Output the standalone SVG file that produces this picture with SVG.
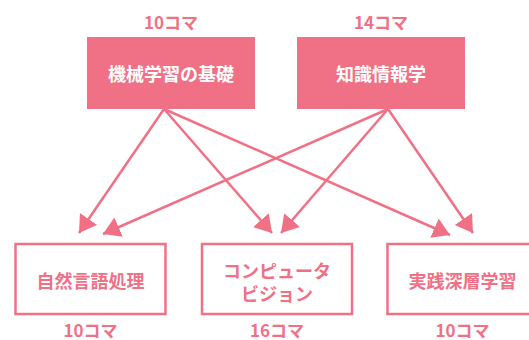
<svg xmlns="http://www.w3.org/2000/svg" width="529" height="340" viewBox="0 0 529 340">
<defs>
<marker id="ah" markerUnits="userSpaceOnUse" markerWidth="18" markerHeight="22" refX="17" refY="10.5" orient="auto">
<path d="M0,0 L17,10.5 L0,21 z" fill="#F07185"/>
</marker>
<style>
.t{font-family:"Noto Sans CJK JP","Noto Sans",sans-serif;font-weight:700;text-anchor:middle}
.w{fill:#fff;font-size:18px}
.p{fill:#F07185;font-size:18px}
.k{fill:#F07185;font-size:17px}
.fill{fill:#F07185}
.box{fill:#fff;stroke:#F07185;stroke-width:2.5}
.c{stroke:#F07185;stroke-width:2.5;fill:none;marker-end:url(#ah)}
</style>
</defs>
<rect width="529" height="340" fill="#fff"/>
<g id="connectors">
<line class="c" x1="164" y1="109" x2="79" y2="233"/>
<line class="c" x1="164" y1="109" x2="272" y2="233"/>
<line class="c" x1="164" y1="109" x2="450" y2="235"/>
<line class="c" x1="388" y1="109" x2="103" y2="234"/>
<line class="c" x1="388" y1="109" x2="281" y2="233"/>
<line class="c" x1="388" y1="109" x2="473" y2="233"/>
</g>
<g id="ml">
<text class="t k" x="171" y="29">10コマ</text>
<rect class="fill" x="87" y="37" width="168" height="72"/>
<text class="t w" x="171" y="81">機械学習の基礎</text>
</g>
<g id="ki">
<text class="t k" x="381" y="29">14コマ</text>
<rect class="fill" x="297" y="37" width="168" height="72"/>
<text class="t w" x="381" y="81">知識情報学</text>
</g>
<g id="nlp">
<rect class="box" x="15.5" y="244" width="150" height="70"/>
<text class="t p" x="90.5" y="288">自然言語処理</text>
<text class="t k" x="90.5" y="337">10コマ</text>
</g>
<g id="cv">
<rect class="box" x="202" y="244" width="150" height="70"/>
<text class="t p" x="277" y="278">コンピュータ</text>
<text class="t p" x="277" y="301">ビジョン</text>
<text class="t k" x="277" y="337">16コマ</text>
</g>
<g id="dl">
<rect class="box" x="387.5" y="244" width="150" height="70"/>
<text class="t p" x="462.5" y="288">実践深層学習</text>
<text class="t k" x="462.5" y="337">10コマ</text>
</g>
</svg>
